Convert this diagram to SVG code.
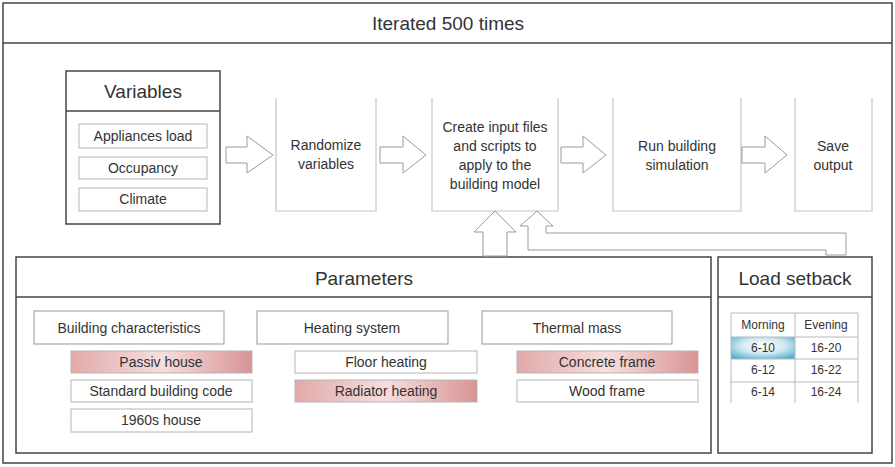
<svg xmlns="http://www.w3.org/2000/svg" width="895" height="467" viewBox="0 0 895 467">
<defs>
<linearGradient id="pink" x1="0" y1="0" x2="1" y2="0">
<stop offset="0" stop-color="#e2a9a9"/>
<stop offset="0.5" stop-color="#f6dede"/>
<stop offset="1" stop-color="#d99494"/>
</linearGradient>
<radialGradient id="blue" cx="0.5" cy="0.4" r="0.7">
<stop offset="0" stop-color="#ffffff"/>
<stop offset="0.5" stop-color="#cfe9f2"/>
<stop offset="1" stop-color="#4aaecd"/>
</radialGradient>
<style>
text{font-family:"Liberation Sans",Arial,sans-serif;fill:#333;text-anchor:middle;dominant-baseline:central}
.h{font-size:19px}
.t{font-size:14px}
.s{font-size:12px}
.frame{fill:#fff;stroke:#444;stroke-width:1.5}
.proc{fill:none;stroke:#c4c4c4;stroke-width:1.2}
.item{fill:#fff;stroke:#b5b5b5;stroke-width:1}
.cat{fill:#fff;stroke:#a8a8a8;stroke-width:1.2}
.arrow{fill:#fff;stroke:#9a9a9a;stroke-width:1}
.tab{stroke:#b8b8b8;stroke-width:1;fill:none}
</style>
</defs>
<rect width="895" height="467" fill="#fff"/>
<g id="iterated">
<rect class="frame" x="3" y="3" width="889" height="460"/>
<line x1="3" y1="43" x2="892" y2="43" stroke="#444" stroke-width="1.5"/>
<text class="h" x="448" y="23">Iterated 500 times</text>
</g>
<g id="variables">
<rect class="frame" x="66" y="71" width="154" height="153"/>
<line x1="66" y1="111" x2="220" y2="111" stroke="#444" stroke-width="1.5"/>
<text class="h" x="143" y="91">Variables</text>
<rect class="item" x="79" y="124" width="128" height="24"/>
<text class="t" x="143" y="136">Appliances load</text>
<rect class="item" x="79" y="157" width="128" height="22"/>
<text class="t" x="143" y="168">Occupancy</text>
<rect class="item" x="79" y="188" width="128" height="23"/>
<text class="t" x="143" y="199">Climate</text>
</g>
<g id="randomize">
<path class="proc" d="M276,98 V211 H376 V98"/>
<text class="t" x="326" y="145">Randomize</text>
<text class="t" x="326" y="164">variables</text>
</g>
<g id="create">
<path class="proc" d="M432,98 V211 H558 V98"/>
<text class="t" x="495" y="127">Create input files</text>
<text class="t" x="495" y="146">and scripts to</text>
<text class="t" x="495" y="165">apply to the</text>
<text class="t" x="495" y="184">building model</text>
</g>
<g id="run">
<path class="proc" d="M613,98 V211 H741 V98"/>
<text class="t" x="677" y="146">Run building</text>
<text class="t" x="677" y="165">simulation</text>
</g>
<g id="save">
<path class="proc" d="M795,98 V211 H872 V98"/>
<text class="t" x="833" y="146">Save</text>
<text class="t" x="833" y="165">output</text>
</g>
<g id="parameters">
<rect class="frame" x="16" y="257" width="695" height="196"/>
<line x1="16" y1="297" x2="711" y2="297" stroke="#444" stroke-width="1.5"/>
<text class="h" x="364" y="278">Parameters</text>
<rect class="cat" x="34" y="311" width="190" height="33"/>
<text class="t" x="129" y="328">Building characteristics</text>
<rect class="cat" x="257" y="311" width="191" height="33"/>
<text class="t" x="352" y="328">Heating system</text>
<rect class="cat" x="482" y="311" width="190" height="33"/>
<text class="t" x="577" y="328">Thermal mass</text>
<rect class="item" x="71" y="351" width="181" height="22" fill="url(#pink)" style="fill:url(#pink)"/>
<text class="t" x="161" y="362">Passiv house</text>
<rect class="item" x="71" y="380" width="181" height="22"/>
<text class="t" x="161" y="391">Standard building code</text>
<rect class="item" x="71" y="409" width="181" height="23"/>
<text class="t" x="161" y="420">1960s house</text>
<rect class="item" x="295" y="351" width="182" height="22"/>
<text class="t" x="386" y="362">Floor heating</text>
<rect class="item" x="295" y="380" width="182" height="22" style="fill:url(#pink)"/>
<text class="t" x="386" y="391">Radiator heating</text>
<rect class="item" x="517" y="351" width="181" height="22" style="fill:url(#pink)"/>
<text class="t" x="607" y="362">Concrete frame</text>
<rect class="item" x="517" y="380" width="181" height="22"/>
<text class="t" x="607" y="391">Wood frame</text>
</g>
<g id="load-setback">
<rect class="frame" x="718" y="257" width="154" height="196"/>
<line x1="718" y1="297" x2="872" y2="297" stroke="#444" stroke-width="1.5"/>
<text class="h" x="795" y="278">Load setback</text>
<rect x="731" y="337" width="64" height="22" fill="url(#blue)"/>
<path class="tab" d="M731,403 V313 H858 V403 M795,313 V403 M731,337 H858 M731,359 H858 M731,382 H858"/>
<text class="s" x="763" y="325">Morning</text>
<text class="s" x="826" y="325">Evening</text>
<text class="s" x="763" y="348">6-10</text>
<text class="s" x="826" y="348">16-20</text>
<text class="s" x="763" y="370">6-12</text>
<text class="s" x="826" y="370">16-22</text>
<text class="s" x="763" y="392">6-14</text>
<text class="s" x="826" y="392">16-24</text>
</g>
<g id="connectors">
<polygon class="arrow" points="226,147 247,147 247,136 273,155 247,173 247,163 226,163"/>
<polygon class="arrow" points="380,147 403,147 403,136 426,155 403,173 403,163 380,163"/>
<polygon class="arrow" points="561,147 583,147 583,136 606,155 583,173 583,163 561,163"/>
<polygon class="arrow" points="742,147 765,147 765,136 787,155 765,173 765,163 742,163"/>
<polygon class="arrow" points="495,211 516,232 507,232 507,256 483,256 483,232 474,232"/>
<polygon class="arrow" points="537,211 553,226 546,226 546,233 846,233 846,255 826,255 826,250 528,250 528,226 520,226"/>
</g>
</svg>
